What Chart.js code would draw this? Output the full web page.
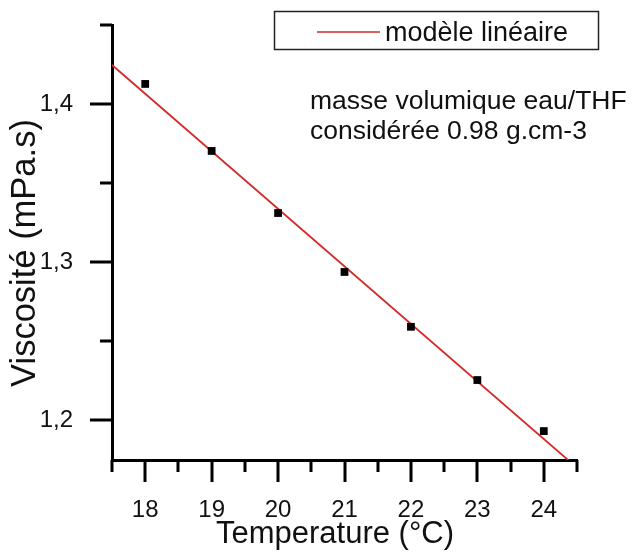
<!DOCTYPE html>
<html>
<head>
<meta charset="utf-8">
<script src="https://cdn.jsdelivr.net/npm/chart.js@4.4.1/dist/chart.umd.min.js"></script>
<style>
  html, body { margin: 0; padding: 0; background: #fff; }
  #wrap { width: 643px; height: 553px; }
</style>
</head>
<body>
<div id="wrap"><canvas id="visco" width="643" height="553"></canvas></div>
<script>
// measured points
var temperatures = [18, 19, 20, 21, 22, 23, 24];
var viscosities = [1.4127, 1.3703, 1.3310, 1.2937, 1.2590, 1.2253, 1.1930];

// fitted straight line, given by its two ends
var modelTemps = [17.5, 24.5];
var modelViscosities = [1.4247, 1.1698];

// axis ticks
var xTickValues = [18, 19, 20, 21, 22, 23, 24];
var xTickLabels = ['18', '19', '20', '21', '22', '23', '24'];
var xMinorTicks = [17.5, 18.5, 19.5, 20.5, 21.5, 22.5, 23.5, 24.5];
var yTickValues = [1.2, 1.3, 1.4];
var yTickLabels = ['1,2', '1,3', '1,4'];
var yMinorTicks = [1.25, 1.35, 1.45];

var xTitle = 'Temperature (°C)';
var yTitle = 'Viscosité (mPa.s)';

var fontFamily = '"Liberation Sans", Arial, sans-serif';
var red = '#d42a2a';

function toPoints(xs, ys) {
  return xs.map(function (x, i) {
    return { x: x, y: ys[i] };
  });
}

// outward tick marks, long on labelled values, short in between
var tickMarks = {
  id: 'tickMarks',
  afterDraw: function (chart) {
    var ctx = chart.ctx;
    var xs = chart.scales.x;
    var ys = chart.scales.y;
    var area = chart.chartArea;
    ctx.save();
    ctx.strokeStyle = '#000';
    ctx.lineWidth = 3;
    ctx.beginPath();
    xTickValues.forEach(function (v) {
      var px = Math.round(xs.getPixelForValue(v));
      ctx.moveTo(px, area.bottom);
      ctx.lineTo(px, area.bottom + 22);
    });
    xMinorTicks.forEach(function (v) {
      var px = Math.round(xs.getPixelForValue(v));
      ctx.moveTo(px, area.bottom);
      ctx.lineTo(px, area.bottom + 12);
    });
    yTickValues.forEach(function (v) {
      var py = Math.round(ys.getPixelForValue(v));
      ctx.moveTo(area.left, py);
      ctx.lineTo(area.left - 22, py);
    });
    yMinorTicks.forEach(function (v) {
      var py = Math.round(ys.getPixelForValue(v));
      ctx.moveTo(area.left, py);
      ctx.lineTo(area.left - 12, py);
    });
    ctx.stroke();
    ctx.restore();
  }
};

// axis titles (a bit off-centre), boxed legend and the note about density
var notes = {
  id: 'notes',
  afterDraw: function (chart) {
    var ctx = chart.ctx;
    ctx.save();
    ctx.fillStyle = '#111';
    ctx.textAlign = 'center';
    ctx.textBaseline = 'middle';
    ctx.font = '31px ' + fontFamily;
    ctx.fillText(xTitle, 335, 534);

    ctx.save();
    ctx.translate(25, 253);
    ctx.rotate(-Math.PI / 2);
    ctx.font = '34.5px ' + fontFamily;
    ctx.fillText(yTitle, 0, 0);
    ctx.restore();

    ctx.strokeStyle = '#222';
    ctx.lineWidth = 1.5;
    ctx.strokeRect(274.5, 11.5, 324, 38);

    ctx.strokeStyle = red;
    ctx.lineWidth = 1.5;
    ctx.beginPath();
    ctx.moveTo(317, 32);
    ctx.lineTo(380, 32);
    ctx.stroke();

    ctx.textBaseline = 'alphabetic';
    ctx.textAlign = 'left';
    ctx.font = '27px ' + fontFamily;
    ctx.fillText(chart.data.datasets[1].label, 385, 41);

    ctx.font = '26.5px ' + fontFamily;
    ctx.fillText('masse volumique eau/THF', 310, 109);
    ctx.fillText('considérée 0.98 g.cm-3', 310, 139);
    ctx.restore();
  }
};

new Chart(document.getElementById('visco'), {
  type: 'scatter',
  data: {
    datasets: [
      {
        label: 'mesures',
        data: toPoints(temperatures, viscosities),
        pointStyle: 'rect',
        pointRadius: 5.5,
        pointBackgroundColor: '#000',
        pointBorderColor: '#000',
        pointBorderWidth: 0,
        showLine: false,
        order: 1
      },
      {
        label: 'modèle linéaire',
        data: toPoints(modelTemps, modelViscosities),
        showLine: true,
        borderColor: red,
        borderWidth: 1.8,
        pointRadius: 0,
        fill: false,
        order: 2
      }
    ]
  },
  plugins: [tickMarks, notes],
  options: {
    responsive: false,
    animation: false,
    events: [],
    layout: {
      padding: { top: 25, right: 66, bottom: 0, left: 0 }
    },
    plugins: {
      legend: { display: false },
      tooltip: { enabled: false }
    },
    scales: {
      x: {
        type: 'linear',
        min: 17.5,
        max: 24.5,
        afterFit: function (scale) {
          scale.height = 93;
          scale.paddingLeft = 0;
          scale.paddingRight = 0;
        },
        afterBuildTicks: function (scale) {
          scale.ticks = xTickValues.map(function (v) {
            return { value: v };
          });
        },
        border: { display: true, color: '#000', width: 3 },
        grid: { drawOnChartArea: false, drawTicks: false },
        ticks: {
          padding: 36,
          color: '#111',
          font: { family: fontFamily, size: 24 },
          callback: function (value, index) {
            return xTickLabels[index];
          }
        }
      },
      y: {
        type: 'linear',
        min: 1.1747,
        max: 1.45,
        afterFit: function (scale) {
          scale.width = 112;
          scale.paddingTop = 0;
          scale.paddingBottom = 0;
        },
        afterBuildTicks: function (scale) {
          scale.ticks = yTickValues.map(function (v) {
            return { value: v };
          });
        },
        border: { display: true, color: '#000', width: 3 },
        grid: { drawOnChartArea: false, drawTicks: false },
        ticks: {
          padding: 39,
          color: '#111',
          font: { family: fontFamily, size: 24 },
          callback: function (value, index) {
            return yTickLabels[index];
          }
        }
      }
    }
  }
});
</script>
</body>
</html>
